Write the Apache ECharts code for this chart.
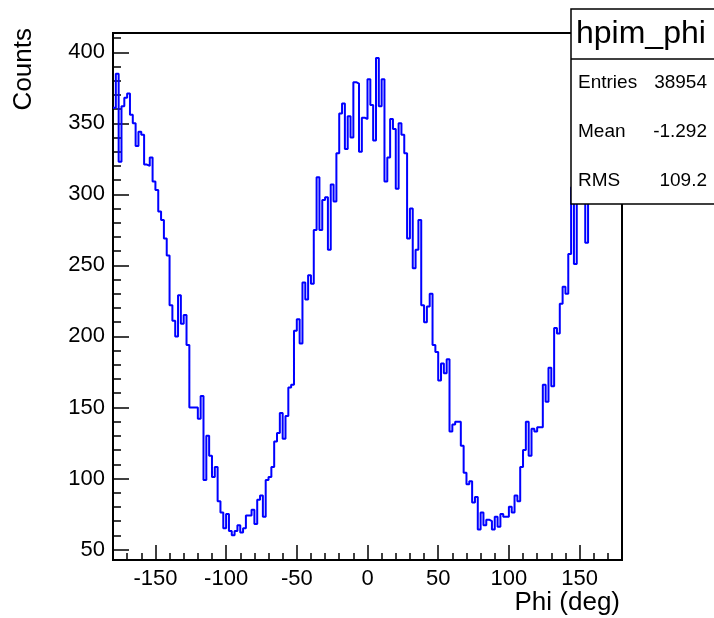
<!DOCTYPE html>
<html>
<head>
<meta charset="utf-8">
<script src="https://cdn.jsdelivr.net/npm/echarts@6/dist/echarts.min.js"></script>
<style>
html,body{margin:0;padding:0;background:#fff;}
#chart{width:714px;height:618px;}
</style>
</head>
<body>
<div id="chart"></div>
<script>
// Histogram hpim_phi : 180 bins of 2 deg from -180 to 180
const xMin = -180;
const xMax = 180;
const binWidth = 2;
const counts = [
  361,385,323,362,368,371,356,350,334,344,
  342,321,320,326,309,303,288,282,269,257,
  222,211,200,229,209,215,194,150,150,150,
  142,158,99,130,116,101,108,84,76,65,
  75,63,60,63,67,62,65,74,74,78,
  68,85,88,73,99,101,108,126,132,146,
  128,144,164,166,204,212,195,238,226,243,
  237,275,312,275,296,298,261,307,295,329,
  357,364,332,355,340,379,378,330,354,353,
  381,363,338,396,362,381,309,326,353,346,
  304,350,342,329,269,290,248,261,282,222,
  210,221,230,194,189,169,181,174,184,133,
  138,140,140,123,104,96,98,83,87,64,
  76,67,71,70,64,73,66,75,73,73,
  80,76,88,84,108,120,140,116,135,133,
  136,136,166,154,178,165,206,202,223,235,
  230,258,305,251,310,320,330,266,335,345,
  340,355,350,360,365,358,370,372,365,375
];
const xMajorTicks = [-150,-100,-50,0,50,100,150];
const xMinorTicks = [-170,-160,-150,-140,-130,-120,-110,-100,-90,-80,-70,-60,-50,-40,-30,-20,-10,0,10,20,30,40,50,60,70,80,90,100,110,120,130,140,150,160,170];
const yMajorTicks = [50,100,150,200,250,300,350,400];
const yMinorTicks = [50,60,70,80,90,100,110,120,130,140,150,160,170,180,190,200,210,220,230,240,250,260,270,280,290,300,310,320,330,340,350,360,370,380,390,400,410];
const statsTitle = 'hpim_phi';
const statsNames = ['Entries','Mean','RMS'];
const statsValues = ['38954','-1.292','109.2'];
const xTitle = 'Phi (deg)';
const yTitle = 'Counts';

const yMin = 42.6, yMax = 413.6;

const stepData = counts.map((c,i)=>[xMin + i*binWidth, c]);
stepData.push([xMax, counts[counts.length-1]]);

const FONT = 'Liberation Sans, Arial, Helvetica, sans-serif';
const chart = echarts.init(document.getElementById('chart'), null, {renderer:'canvas'});

function xAxisDef(ticks, len, showLabel){
  return {
    type:'value', min:xMin, max:xMax, position:'bottom', offset:0,
    axisLine:{show:false, onZero:false},
    splitLine:{show:false},
    axisTick:{show:true, inside:true, length:len, customValues:ticks, lineStyle:{color:'#000', width:1.5}},
    axisLabel:{show:showLabel, customValues:ticks, color:'#000', fontFamily:FONT, fontSize:22, margin:8},
  };
}
function yAxisDef(ticks, len, showLabel){
  return {
    type:'value', min:yMin, max:yMax, position:'left', offset:0,
    axisLine:{show:false, onZero:false},
    splitLine:{show:false},
    axisTick:{show:true, inside:true, length:len, customValues:ticks, lineStyle:{color:'#000', width:1.5}},
    axisLabel:{show:showLabel, customValues:ticks, color:'#000', fontFamily:FONT, fontSize:22, margin:8},
  };
}

const statsX = 571, statsY = 9, statsW = 150, statsH = 195;
const rowY = [83, 132, 181];
const graphics = [
  {type:'rect', z:100, shape:{x:statsX, y:statsY, width:statsW, height:statsH},
   style:{fill:'#fff', stroke:'#000', lineWidth:1.5}},
  {type:'line', z:101, shape:{x1:statsX, y1:59, x2:714, y2:59}, style:{stroke:'#000', lineWidth:1.5}},
  {type:'text', z:102, x:576, y:34, style:{text:statsTitle, font:'32px '+FONT, fill:'#000', textAlign:'left', textVerticalAlign:'middle'}},
  {type:'text', z:102, x:11, y:28, rotation:Math.PI/2,
   style:{text:yTitle, font:'26px '+FONT, fill:'#000', textAlign:'right', textVerticalAlign:'top'}},
  {type:'text', z:102, x:620, y:603,
   style:{text:xTitle, font:'26px '+FONT, fill:'#000', textAlign:'right', textVerticalAlign:'middle'}}
];
statsNames.forEach((n,i)=>{
  graphics.push({type:'text', z:102, x:578, y:rowY[i], style:{text:n, font:'19px '+FONT, fill:'#000', textAlign:'left', textVerticalAlign:'middle'}});
  graphics.push({type:'text', z:102, x:707, y:rowY[i], style:{text:statsValues[i], font:'19px '+FONT, fill:'#000', textAlign:'right', textVerticalAlign:'middle'}});
});

chart.setOption({
  animation:false,
  backgroundColor:'#fff',
  grid:{left:113, right:92, top:33, bottom:58, show:true, borderColor:'#000', borderWidth:2, backgroundColor:'transparent'},
  xAxis:[xAxisDef(xMajorTicks,15,true), xAxisDef(xMinorTicks,7,false)],
  yAxis:[yAxisDef(yMajorTicks,16,true), yAxisDef(yMinorTicks,8,false)],
  series:[{
    type:'line', step:'end', data:stepData, xAxisIndex:0, yAxisIndex:0,
    showSymbol:false, symbol:'none', clip:true,
    lineStyle:{color:'#0000ff', width:2},
    z:5
  }],
  graphic:graphics
});
</script>
</body>
</html>
